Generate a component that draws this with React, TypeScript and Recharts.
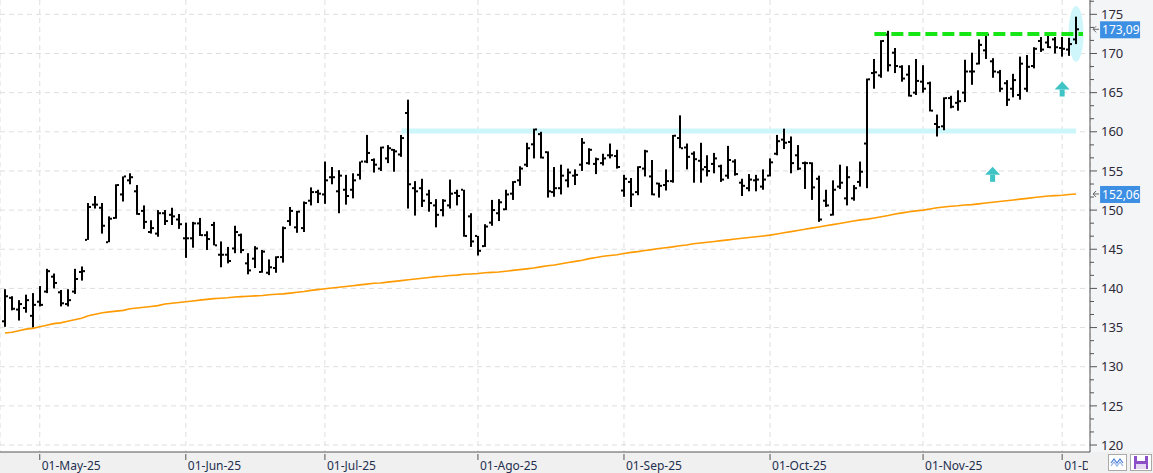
import React from 'react';
import {
  ComposedChart,
  Bar,
  Line,
  XAxis,
  YAxis,
  CartesianGrid,
  ReferenceLine,
  ReferenceDot,
} from 'recharts';

// daily OHLC, one entry per session (late Apr 2025 -> early Dec 2025)
const openPx = [
  135.8, 138.8, 137.3, 137.5, 136.5, 138.3, 139.6, 141.5, 139.5, 138.0,
  139.6, 142.1, 146.2, 150.7, 150.3, 145.9, 149.0, 152.0, 153.8, 152.4,
  149.9, 147.2, 147.0, 149.6, 149.4, 148.8, 146.4, 146.4, 148.3, 146.8,
  148.1, 144.3, 144.3, 145.1, 146.8, 143.2, 143.8, 142.1, 142.0, 142.6,
  144.0, 148.6, 147.8, 147.7, 151.2, 152.3, 152.0, 154.2, 152.4, 152.6,
  152.6, 154.5, 156.2, 156.4, 155.3, 156.6, 157.7, 157.1, 162.4, 152.8,
  152.8, 152.0, 150.6, 150.0, 150.6, 152.2, 152.6, 149.2, 146.7, 145.4,
  148.4, 149.6, 150.1, 152.1, 153.8, 155.8, 158.4, 159.7, 157.4, 152.3,
  152.8, 153.8, 154.4, 155.8, 156.0, 155.9, 156.0, 157.0, 156.9, 152.5,
  153.6, 152.3, 155.3, 154.3, 153.4, 153.2, 153.7, 159.2, 158.0, 157.2,
  156.3, 155.5, 155.9, 155.6, 154.4, 156.2, 153.5, 152.8, 153.8, 153.0,
  154.4, 157.2, 159.0, 158.7, 157.0, 156.0, 156.0, 154.0, 151.2, 149.4,
  153.0, 151.5, 151.5, 153.6, 158.5, 167.5, 167.2, 172.4, 170.1, 168.3,
  167.3, 165.0, 166.4, 166.2, 161.0, 160.7, 164.3, 163.7, 165.0, 167.7,
  168.7, 170.4, 169.0, 167.6, 166.2, 165.5, 164.7, 165.5, 168.4, 171.6,
  171.4, 171.8, 170.7, 170.5, 171.8,
];
const highPx = [
  139.9, 139.0, 138.5, 139.2, 139.4, 140.3, 142.5, 141.9, 139.8, 139.9,
  142.5, 142.8, 150.9, 151.8, 150.9, 149.2, 153.3, 154.3, 154.7, 153.2,
  150.6, 148.7, 150.0, 150.0, 150.3, 149.5, 148.4, 148.5, 149.0, 147.3,
  148.5, 146.0, 145.3, 148.0, 147.0, 144.5, 145.4, 144.9, 143.7, 144.1,
  147.9, 150.4, 149.9, 151.1, 152.9, 152.6, 156.2, 155.5, 155.1, 154.5,
  154.7, 156.2, 159.6, 156.6, 158.1, 158.3, 157.8, 159.6, 164.1, 153.7,
  154.0, 152.6, 151.4, 151.4, 153.9, 152.6, 152.6, 149.6, 146.7, 148.2,
  151.3, 151.4, 152.6, 153.7, 155.6, 158.6, 160.4, 160.0, 157.5, 155.5,
  155.8, 155.3, 155.2, 159.2, 157.9, 156.7, 157.2, 158.5, 157.7, 154.5,
  154.1, 155.6, 157.7, 156.4, 153.5, 155.2, 159.6, 162.1, 158.5, 157.5,
  158.6, 157.0, 157.3, 155.8, 158.2, 156.5, 154.0, 154.6, 154.5, 155.2,
  156.6, 159.6, 160.4, 159.4, 158.3, 156.2, 156.1, 154.4, 152.6, 153.8,
  155.8, 155.6, 153.2, 156.2, 166.8, 169.3, 171.7, 172.9, 170.7, 168.5,
  168.5, 169.3, 168.5, 166.4, 162.2, 164.4, 164.6, 165.3, 169.2, 170.1,
  171.8, 172.6, 169.4, 167.9, 166.6, 167.4, 169.6, 169.8, 170.8, 172.1,
  172.5, 172.1, 172.1, 172.0, 174.7,
];
const lowPx = [
  135.1, 137.2, 135.9, 136.9, 135.0, 137.7, 139.4, 140.0, 137.7, 137.7,
  139.3, 141.0, 146.2, 150.2, 147.0, 145.9, 148.9, 151.1, 153.3, 149.4,
  147.6, 147.0, 146.6, 148.1, 148.1, 147.6, 143.9, 145.2, 146.7, 144.9,
  145.5, 142.7, 143.2, 144.5, 144.5, 141.8, 142.6, 142.0, 141.7, 142.0,
  143.3, 148.0, 147.1, 147.2, 150.6, 150.9, 150.8, 153.3, 149.6, 150.7,
  151.5, 153.9, 156.0, 154.8, 155.0, 156.0, 154.9, 156.8, 150.2, 149.3,
  150.4, 149.8, 147.8, 149.2, 150.2, 150.6, 146.6, 145.3, 144.2, 145.3,
  148.0, 148.6, 150.0, 151.3, 153.1, 155.5, 156.6, 156.6, 151.6, 151.7,
  152.0, 152.9, 153.2, 155.0, 155.8, 154.6, 155.7, 156.6, 155.3, 151.7,
  150.4, 151.9, 154.3, 151.9, 151.6, 152.5, 153.5, 157.9, 155.2, 153.5,
  153.5, 154.3, 154.7, 153.6, 154.0, 154.4, 151.8, 152.4, 152.4, 152.6,
  154.3, 157.0, 157.8, 154.7, 155.1, 152.7, 151.3, 148.5, 150.4, 149.3,
  152.7, 150.6, 151.2, 153.0, 152.8, 165.5, 166.9, 167.7, 167.5, 166.4,
  164.5, 164.7, 165.0, 162.6, 159.4, 160.2, 163.0, 162.7, 163.8, 166.0,
  168.6, 169.3, 166.9, 165.1, 163.3, 164.4, 164.1, 165.1, 168.1, 170.2,
  170.7, 170.0, 169.6, 169.7, 171.2,
];
const closePx = [
  139.0, 137.4, 138.0, 138.5, 137.9, 137.9, 142.2, 140.7, 138.1, 138.5,
  141.2, 142.2, 150.4, 150.7, 148.0, 148.9, 153.2, 154.3, 154.2, 149.5,
  148.5, 147.7, 149.6, 148.6, 149.2, 148.2, 146.4, 148.3, 146.8, 146.3,
  145.5, 144.3, 143.5, 147.2, 144.9, 142.3, 145.1, 144.7, 142.7, 144.0,
  147.7, 149.9, 149.8, 150.9, 152.3, 152.1, 153.8, 154.2, 154.4, 151.8,
  153.8, 156.2, 157.3, 155.8, 158.0, 157.9, 157.5, 159.2, 153.3, 152.4,
  151.2, 150.9, 149.4, 151.2, 152.1, 151.8, 146.7, 146.0, 144.8, 147.9,
  150.0, 151.0, 152.0, 153.6, 155.3, 157.9, 160.3, 156.7, 152.4, 152.8,
  154.4, 154.8, 154.5, 158.6, 157.7, 156.5, 156.6, 157.0, 155.5, 154.0,
  152.0, 155.5, 157.5, 152.0, 153.1, 153.7, 159.5, 157.9, 156.8, 156.5,
  155.2, 155.0, 156.6, 153.9, 156.4, 154.6, 153.1, 153.9, 153.9, 153.9,
  156.1, 158.8, 158.6, 156.0, 155.3, 156.0, 152.9, 148.8, 150.6, 152.6,
  153.5, 154.2, 152.8, 154.9, 166.7, 167.6, 171.6, 168.5, 168.4, 166.8,
  164.6, 166.5, 165.5, 162.7, 160.6, 164.3, 163.2, 163.9, 167.7, 167.7,
  171.1, 172.4, 167.7, 165.5, 164.1, 166.6, 168.7, 168.3, 170.6, 170.5,
  170.8, 170.8, 170.6, 171.2, 173.09,
];
// long moving average (orange)
const maPx = [
  134.3, 134.4, 134.6, 134.8, 134.9, 135.1, 135.3, 135.5, 135.6, 135.8,
  136.0, 136.2, 136.5, 136.7, 136.9, 137.0, 137.1, 137.2, 137.4, 137.5,
  137.6, 137.7, 137.8, 138.0, 138.1, 138.2, 138.3, 138.4, 138.5, 138.6,
  138.7, 138.75, 138.8, 138.9, 138.95, 139.0, 139.05, 139.1, 139.2, 139.25,
  139.3, 139.4, 139.5, 139.6, 139.75, 139.85, 139.95, 140.05, 140.15, 140.25,
  140.35, 140.45, 140.55, 140.65, 140.7, 140.8, 140.9, 141.0, 141.1, 141.2,
  141.3, 141.4, 141.5, 141.55, 141.65, 141.7, 141.8, 141.85, 141.9, 142.0,
  142.05, 142.1, 142.2, 142.3, 142.4, 142.5, 142.6, 142.75, 142.9, 143.0,
  143.15, 143.3, 143.45, 143.6, 143.8, 143.95, 144.1, 144.2, 144.3, 144.45,
  144.6, 144.7, 144.85, 144.95, 145.1, 145.2, 145.3, 145.45, 145.55, 145.7,
  145.8, 145.9, 146.0, 146.1, 146.2, 146.3, 146.4, 146.5, 146.6, 146.7,
  146.8, 146.95, 147.1, 147.25, 147.4, 147.55, 147.7, 147.85, 148.0, 148.15,
  148.3, 148.45, 148.6, 148.75, 148.85, 149.0, 149.15, 149.3, 149.5, 149.65,
  149.8, 149.9, 150.0, 150.15, 150.3, 150.4, 150.5, 150.55, 150.65, 150.7,
  150.8, 150.9, 151.0, 151.1, 151.2, 151.3, 151.4, 151.5, 151.6, 151.7,
  151.8, 151.85, 151.9, 152.0, 152.06,
];

const monthTicks = [5, 26, 46, 68, 89, 110, 132, 152];
const monthLabels = ['01-May-25', '01-Jun-25', '01-Jul-25', '01-Ago-25', '01-Sep-25', '01-Oct-25', '01-Nov-25', '01-Dic-25'];

const majorTicks = [120, 125, 130, 135, 140, 145, 150, 155, 160, 165, 170, 175];
const yTicks = [
  120, 121.67, 123.33, 125, 126.67, 128.33, 130, 131.67, 133.33, 135, 136.67, 138.33,
  140, 141.67, 143.33, 145, 146.67, 148.33, 150, 151.67, 153.33, 155, 156.67, 158.33,
  160, 161.67, 163.33, 165, 166.67, 168.33, 170, 171.67, 173.33, 175, 176.67,
];

const supportLevel = 160.1;
const resistanceLevel = 172.5;
const lastClose = closePx[closePx.length - 1];
const lastMa = maPx[maPx.length - 1];

const data: any[] = openPx.map((o, i) => ({
  i,
  range: [lowPx[i], highPx[i]],
  open: o,
  high: highPx[i],
  low: lowPx[i],
  close: closePx[i],
  ma: maPx[i],
}));
data.push({ i: openPx.length }); // empty slot on the right edge

const FONT = '"Noto Sans", "DejaVu Sans", sans-serif';

const OhlcShape = (props: any) => {
  const { x, y, width, height, payload } = props;
  if (!payload || payload.high == null) return null;
  const top = Math.min(y, y + height);
  const bot = Math.max(y, y + height);
  const span = payload.high - payload.low || 1;
  const py = (v: number) => top + ((payload.high - v) / span) * (bot - top);
  const cx = Math.round(x + width / 2);
  return (
    <g>
      <rect x={cx - 1} y={top} width={2} height={Math.max(bot - top, 1)} fill="#000" />
      <rect x={cx - 3} y={py(payload.open) - 1} width={2} height={2} fill="#000" />
      <rect x={cx + 1} y={py(payload.close) - 1} width={2} height={2} fill="#000" />
    </g>
  );
};

const YTick = ({ x, y, payload }: any) => {
  const v = payload.value;
  const major = majorTicks.includes(v);
  return (
    <g>
      <line x1={x} x2={x + (major ? 7 : 4)} y1={y} y2={y} stroke="#555" />
      {major && (
        <text x={x + 11} y={y} dy="0.36em" fontSize={13} fontFamily={FONT} fill="#2e2a3a">
          {v}
        </text>
      )}
    </g>
  );
};

const XTick = ({ x, y, payload }: any) => {
  const idx = monthTicks.indexOf(payload.value);
  return (
    <g>
      <defs>
        <clipPath id={'xc' + idx}>
          <rect x={0} y={y} width={1088} height={21} />
        </clipPath>
      </defs>
      <line x1={x} x2={x} y1={y} y2={y + 6} stroke="#555" />
      <text x={x + 2} y={y + 16} fontSize={12} fontFamily={FONT} fill="#1f2f4f" clipPath={`url(#xc${idx})`}>
        {monthLabels[idx]}
      </text>
    </g>
  );
};

const Ellipse = ({ cx, cy }: any) => <ellipse cx={cx} cy={cy} rx={7.5} ry={28} fill="#cff7fb" />;

const UpArrow = ({ cx, cy }: any) => (
  <g>
    <polygon points={`${cx},${cy - 8} ${cx + 7.5},${cy} ${cx - 7.5},${cy}`} fill="#3fc4c6" />
    <rect x={cx - 2.5} y={cy} width={5} height={7} fill="#3fc4c6" />
  </g>
);

const priceTag = (text: string) => ({ cx, cy }: any) => {
  const bx = cx + 24;
  return (
    <g>
      <path d={`M${bx - 7} ${cy} h6 M${bx - 7} ${cy} l3 -3 M${bx - 7} ${cy} l3 3`} stroke="#666" strokeWidth={1} fill="none" />
      <rect x={bx} y={cy - 8} width={40} height={17} fill="#3d8fe3" />
      <text x={bx + 2} y={cy + 0.5} dy="0.36em" fontSize={12} fontFamily={FONT} fill="#fff">
        {text}
      </text>
    </g>
  );
};

export default function App() {
  return (
    <div style={{ position: 'fixed', left: 0, top: 0, width: 1153, height: 473, background: '#fff' }}>
      <div style={{ position: 'absolute', left: 1090, top: 0, width: 63, height: 452, background: '#f4f5f7' }} />
      <div style={{ position: 'absolute', left: 0, top: 452, width: 1153, height: 21, background: '#f0f0f0' }} />
      <svg style={{ position: 'absolute', left: 1108, top: 454 }} width={45} height={18}>
        <rect x={0.5} y={0.5} width={18} height={16} fill="#fff" stroke="#aaa" />
        <path d="M3 9 l3 -4 l3 4 l3 -4 l3 4" stroke="#4d7fd6" fill="none" strokeWidth={1.2} />
        <path d="M3 12 l3 -4 l3 4 l3 -4 l3 4" stroke="#8fb0e8" fill="none" strokeWidth={1.2} />
        <rect x={22.5} y={0.5} width={21} height={16} fill="#fff" stroke="#aaa" />
        <rect x={26} y={2} width={14} height={13} fill="#8c4fc8" />
        <rect x={29} y={2} width={8} height={5} fill="#fff" />
        <rect x={28} y={10} width={10} height={5} fill="#e6d8f3" />
      </svg>
      <div style={{ position: 'absolute', left: 0, top: 0 }}>
        <ComposedChart
          width={1153}
          height={473}
          data={data}
          margin={{ top: 0, right: 0, bottom: 0, left: 0 }}
          barCategoryGap={0}
        >
          <CartesianGrid strokeDasharray="5 4" stroke="#dedede" horizontalValues={majorTicks} />
          <XAxis
            dataKey="i"
            type="category"
            ticks={monthTicks}
            interval={0}
            tick={<XTick />}
            tickLine={false}
            tickSize={0}
            height={21}
            axisLine={{ stroke: '#555' }}
            padding={{ left: 1.5, right: 3.5 }}
          />
          <YAxis
            orientation="right"
            type="number"
            width={63}
            domain={[119.11, 176.83]}
            allowDataOverflow
            ticks={yTicks}
            interval={0}
            tick={<YTick />}
            tickLine={false}
            tickSize={0}
            tickMargin={0}
            axisLine={{ stroke: '#555' }}
          />
          <ReferenceLine
            segment={[{ x: 57, y: supportLevel }, { x: 154, y: supportLevel }]}
            stroke="#cdf6fa"
            strokeWidth={5}
            zIndex={100}
          />
          <ReferenceDot x={154} y={resistanceLevel} shape={Ellipse} zIndex={100} />
          <Line
            dataKey="ma"
            type="linear"
            stroke="#ff9a00"
            strokeWidth={1.6}
            dot={false}
            activeDot={false}
            isAnimationActive={false}
          />
          <Bar dataKey="range" shape={OhlcShape} isAnimationActive={false} />
          <ReferenceLine
            segment={[{ x: 125, y: resistanceLevel }, { x: 155, y: resistanceLevel }]}
            stroke="#16e616"
            strokeWidth={4}
            strokeDasharray="12 5"
            zIndex={500}
          />
          <ReferenceDot x={142} y={154.5} shape={UpArrow} zIndex={600} />
          <ReferenceDot x={152} y={165.4} shape={UpArrow} zIndex={600} />
          <ReferenceDot x={154} y={lastClose} shape={priceTag('173,09')} zIndex={700} />
          <ReferenceDot x={154} y={lastMa} shape={priceTag('152,06')} zIndex={700} />
        </ComposedChart>
      </div>
    </div>
  );
}
